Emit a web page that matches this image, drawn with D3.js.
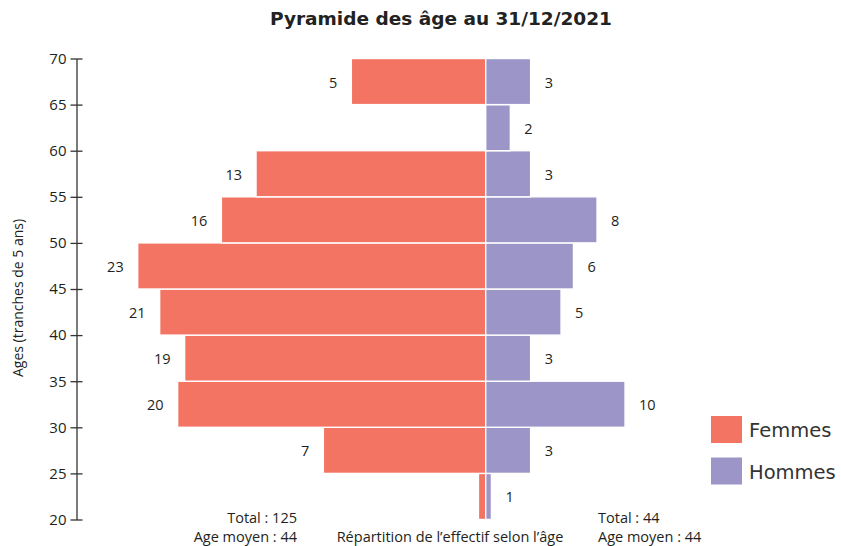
<!DOCTYPE html>
<html>

<head>
    <title>Pyramide des âges</title>
    <script src="https://d3js.org/d3.v7.min.js"></script>
    <style>
        body {
            margin: 0;
            background-color: #ffffff;
        }
        text {
            fill: #231f20;
        }
    </style>
</head>

<body>
    <svg id="pyramide"></svg>
    <script>
        // tranches d'age (borne basse), de 20 a 65
        const tranches = [20, 25, 30, 35, 40, 45, 50, 55, 60, 65];
        const graduations = [20, 25, 30, 35, 40, 45, 50, 55, 60, 65, 70];

        // effectifs par tranche
        const femmes = [1, 7, 20, 19, 21, 23, 16, 13, 0, 5];
        const hommes = [1, 3, 10, 3, 5, 6, 8, 3, 2, 3];

        const femmesBarres = [0.48, 10.73, 20.36, 19.9, 21.55, 23, 17.47, 15.18, 0, 8.88];
        const hommesBarres = [0.38, 2.97, 9.21, 2.97, 4.98, 5.8, 7.36, 2.97, 1.63, 2.97];

        // etiquettes affichees a cote des barres
        const femmesEtiquettes = ["", "7", "20", "19", "21", "23", "16", "13", "", "5"];
        const hommesEtiquettes = ["1", "3", "10", "3", "5", "6", "8", "3", "2", "3"];

        const ageMoyenFemmes = 44;
        const ageMoyenHommes = 44;

        let svgWidth = 841, svgHeight = 546;
        let centre = 485.7;
        let colF = "#f37462", colH = "#9c95c8";
        let font = "'Open Sans', 'Noto Sans', sans-serif";

        let svg = d3.select("#pyramide")
            .attr("width", svgWidth)
            .attr("height", svgHeight)
            .style("font-family", font);

        let y = d3.scaleLinear().domain([20, 70]).range([519.5, 58.5]);
        let x = d3.scaleLinear().domain([0, 23]).range([0, 348]);

        // titre
        svg.append("text")
            .attr("x", 441)
            .attr("y", 25)
            .attr("text-anchor", "middle")
            .attr("textLength", 342)
            .attr("lengthAdjust", "spacingAndGlyphs")
            .style("font-family", "'DejaVu Sans', sans-serif")
            .style("font-weight", "bold")
            .style("font-size", "17.5px")
            .style("fill", "#222")
            .text("Pyramide des âge au 31/12/2021");

        // axe des ages
        let axe = svg.append("g")
            .attr("transform", "translate(76.5,0)")
            .call(d3.axisLeft(y).tickValues(graduations).tickSize(7).tickPadding(4).tickSizeOuter(0));
        axe.select(".domain").attr("stroke", "#333").attr("stroke-width", 1.3);
        axe.selectAll(".tick line").attr("x2", 6).attr("x1", -6).attr("stroke", "#333").attr("stroke-width", 1.3);
        axe.selectAll(".tick text")
            .attr("x", -10)
            .style("font-family", font)
            .style("font-size", "15px")
            .style("fill", "#231f20");

        svg.append("text")
            .attr("transform", "translate(23," + 298 + ") rotate(-90)")
            .attr("text-anchor", "middle")
            .style("font-size", "14px")
            .text("Ages (tranches de 5 ans)");

        // barres femmes
        svg.selectAll(".barF")
            .data(tranches)
            .enter()
            .append("rect")
            .attr("class", "barF")
            .attr("x", function (d, i) { return centre - x(femmesBarres[i]) })
            .attr("y", function (d) { return y(d + 5) })
            .attr("width", function (d, i) { return x(femmesBarres[i]) })
            .attr("height", function (d) { return y(d) - y(d + 5) })
            .attr("fill", colF)
            .attr("stroke", "white")
            .attr("stroke-width", 1.4);

        // barres hommes
        svg.selectAll(".barH")
            .data(tranches)
            .enter()
            .append("rect")
            .attr("class", "barH")
            .attr("x", centre)
            .attr("y", function (d) { return y(d + 5) })
            .attr("width", function (d, i) { return x(hommesBarres[i]) })
            .attr("height", function (d) { return y(d) - y(d + 5) })
            .attr("fill", colH)
            .attr("stroke", "white")
            .attr("stroke-width", 1.4);

        // etiquettes des valeurs
        svg.selectAll(".labF")
            .data(tranches)
            .enter()
            .append("text")
            .attr("class", "labF")
            .attr("x", function (d, i) { return centre - x(femmesBarres[i]) - 14 })
            .attr("y", function (d) { return y(d + 2.5) + 6 })
            .attr("text-anchor", "end")
            .style("font-size", "14.5px")
            .text(function (d, i) { return femmesEtiquettes[i] });

        svg.selectAll(".labH")
            .data(tranches)
            .enter()
            .append("text")
            .attr("class", "labH")
            .attr("x", function (d, i) { return centre + x(hommesBarres[i]) + 14 })
            .attr("y", function (d) { return y(d + 2.5) + 6 })
            .style("font-size", "14.5px")
            .text(function (d, i) { return hommesEtiquettes[i] });

        // totaux
        let bas = svg.append("g").style("font-size", "14.5px");
        bas.append("text").attr("x", 297).attr("y", 523).attr("text-anchor", "end")
            .text("Total : " + d3.sum(femmes));
        bas.append("text").attr("x", 297).attr("y", 542).attr("text-anchor", "end")
            .text("Age moyen : " + ageMoyenFemmes);
        bas.append("text").attr("x", 598).attr("y", 523)
            .text("Total : " + d3.sum(hommes));
        bas.append("text").attr("x", 598).attr("y", 542)
            .text("Age moyen : " + ageMoyenHommes);
        bas.append("text").attr("x", 450).attr("y", 542).attr("text-anchor", "middle")
            .text("Répartition de l’effectif selon l’âge");

        // legende
        let legende = [["Femmes", colF], ["Hommes", colH]];
        let leg = svg.selectAll(".leg")
            .data(legende)
            .enter()
            .append("g")
            .attr("class", "leg")
            .attr("transform", function (d, i) { return "translate(711," + (416 + i * 41.5) + ")" });
        leg.append("rect")
            .attr("width", 31)
            .attr("height", 27)
            .attr("fill", function (d) { return d[1] });
        leg.append("text")
            .attr("x", 38)
            .attr("y", 21)
            .style("font-family", "'DejaVu Sans', sans-serif")
            .style("font-size", "19.5px")
            .style("fill", "#333")
            .text(function (d) { return d[0] });
    </script>
</body>

</html>
